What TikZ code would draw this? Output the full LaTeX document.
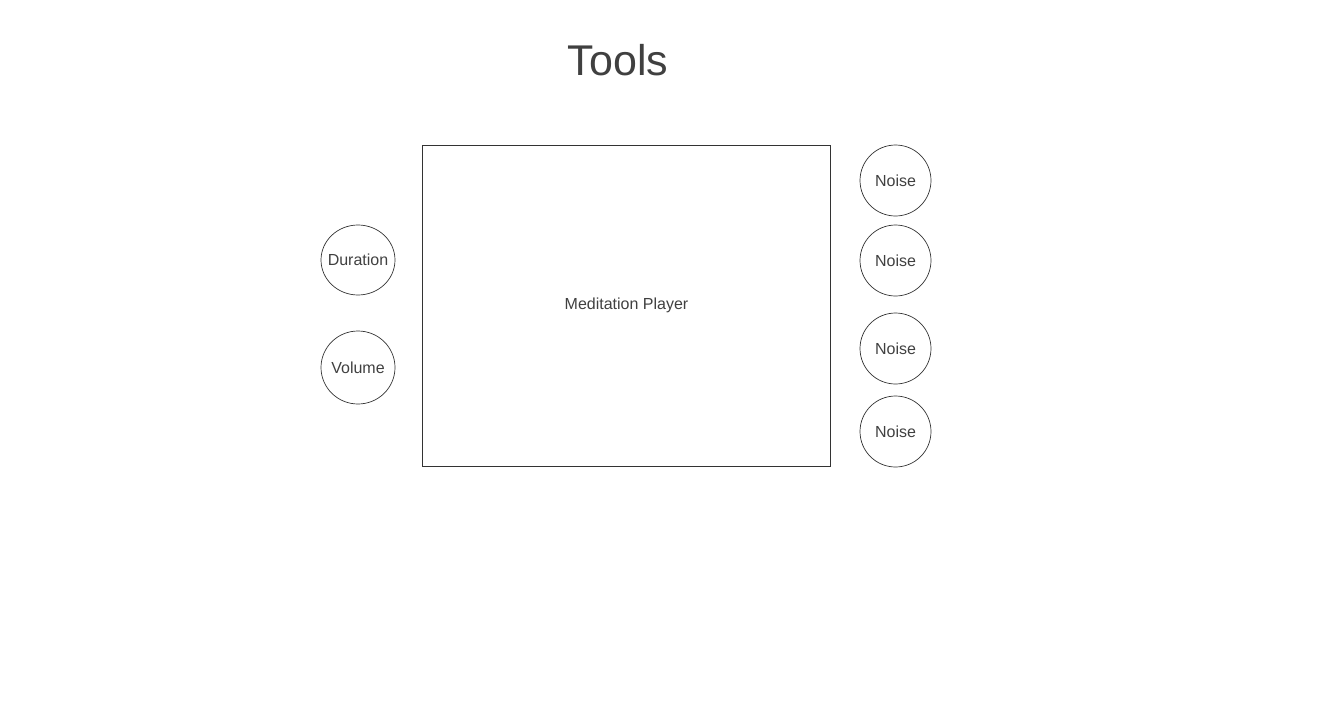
\documentclass[tikz,border=0pt]{standalone}
\usepackage{fontspec}
\setmainfont{Liberation Sans}
\usetikzlibrary{shapes.geometric}
\definecolor{txt}{HTML}{404040}
\definecolor{line}{HTML}{333333}
\begin{document}
\begin{tikzpicture}[x=1pt,y=-1pt,
  roundbox/.style={ellipse,draw=line,line width=0.7pt,inner sep=-10pt,text=txt,font=\fontsize{16}{19}\selectfont},
  mainbox/.style={rectangle,draw=line,line width=0.7pt,inner sep=0pt,text=txt,font=\fontsize{16}{19}\selectfont}]
\useasboundingbox (0,0) rectangle (1333,712);
\node[text=txt,font=\fontsize{43}{50}\selectfont] (title) at (618,60) {Tools};
\node[mainbox,minimum width=408pt,minimum height=321pt] (player) at (626.5,305.5) {Meditation Player};
\node[roundbox,minimum width=74pt,minimum height=70pt] (duration) at (358,260) {Duration};
\node[roundbox,minimum width=74pt,minimum height=73pt] (volume) at (358,367.5) {Volume};
\node[roundbox,minimum width=71pt,minimum height=71pt] (n1) at (895.5,180.5) {Noise};
\node[roundbox,minimum width=71pt,minimum height=71pt] (n2) at (895.5,260.5) {Noise};
\node[roundbox,minimum width=71pt,minimum height=71pt] (n3) at (895.5,348.5) {Noise};
\node[roundbox,minimum width=71pt,minimum height=71pt] (n4) at (895.5,431.5) {Noise};
\end{tikzpicture}
\end{document}
